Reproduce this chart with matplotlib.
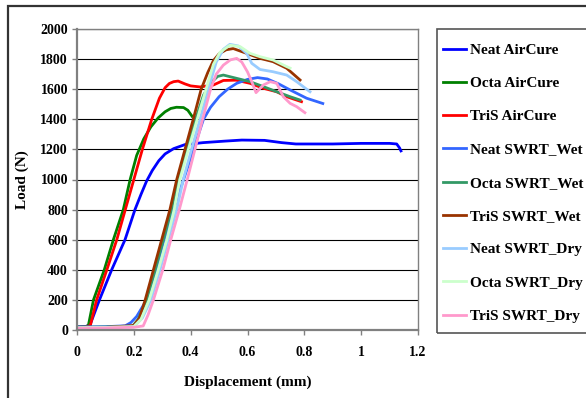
import matplotlib
matplotlib.use("Agg")
import matplotlib.pyplot as plt
from matplotlib.patches import Rectangle

plt.rcParams['font.family'] = ['Liberation Serif', 'DejaVu Serif']
plt.rcParams['font.weight'] = 'bold'

# data
labels = ["Neat AirCure", "Octa AirCure", "TriS AirCure",
          "Neat SWRT_Wet", "Octa SWRT_Wet", "TriS SWRT_Wet",
          "Neat SWRT_Dry", "Octa SWRT_Dry", "TriS SWRT_Dry"]
colors = ["#0000FF", "#008000", "#FF0000",
          "#3366FF", "#339966", "#993300",
          "#99CCFF", "#CCFFCC", "#FF99CC"]

neat_air_x = [0, 0.03, 0.046, 0.079, 0.122, 0.169, 0.204, 0.225, 0.245, 0.265, 0.288,
              0.31, 0.34, 0.38, 0.444, 0.52, 0.58, 0.66, 0.72, 0.77, 0.9, 1.0, 1.1,
              1.125, 1.135, 1.14]
neat_air_y = [20, 22, 35, 200, 400, 600, 800, 900, 990, 1060, 1125,
              1170, 1205, 1232, 1245, 1255, 1262, 1260, 1245, 1236, 1236, 1240, 1240,
              1236, 1210, 1190]

octa_air_x = [0, 0.03, 0.04, 0.058, 0.096, 0.128, 0.163, 0.187, 0.21, 0.235, 0.26,
              0.286, 0.31, 0.33, 0.35, 0.375, 0.39, 0.405]
octa_air_y = [20, 22, 30, 200, 400, 600, 800, 1000, 1160, 1270, 1350,
              1410, 1450, 1472, 1480, 1478, 1460, 1420]

tris_air_x = [0, 0.03, 0.047, 0.069, 0.105, 0.14, 0.17, 0.2, 0.23, 0.263, 0.29,
              0.31, 0.325, 0.34, 0.356, 0.38, 0.4, 0.433, 0.48, 0.515, 0.56, 0.609,
              0.656, 0.703, 0.738, 0.79]
tris_air_y = [18, 20, 30, 200, 400, 600, 800, 1000, 1200, 1400, 1540,
              1610, 1638, 1650, 1654, 1635, 1622, 1615, 1628, 1658, 1660, 1639,
              1606, 1583, 1550, 1517]

neat_wet_x = [0, 0.1, 0.17, 0.19, 0.21, 0.245, 0.278, 0.307, 0.34, 0.375, 0.41, 0.445,
              0.47, 0.5, 0.53, 0.562, 0.6, 0.635, 0.67, 0.71, 0.75, 0.808, 0.865]
neat_wet_y = [20, 22, 28, 50, 90, 200, 400, 600, 800, 1000, 1200, 1400,
              1480, 1550, 1600, 1639, 1665, 1677, 1668, 1635, 1595, 1540, 1505]

octa_wet_x = [0, 0.1, 0.195, 0.215, 0.245, 0.275, 0.304, 0.332, 0.357, 0.387, 0.417,
              0.445, 0.47, 0.495, 0.515, 0.562, 0.609, 0.656, 0.703, 0.75, 0.785]
octa_wet_y = [18, 20, 25, 70, 200, 400, 600, 800, 1000, 1200, 1400,
              1560, 1640, 1685, 1694, 1672, 1650, 1617, 1583, 1550, 1528]

tris_wet_x = [0, 0.1, 0.2, 0.22, 0.24, 0.269, 0.298, 0.327, 0.351, 0.38, 0.409, 0.437,
              0.46, 0.48, 0.5, 0.525, 0.55, 0.597, 0.644, 0.69, 0.738, 0.785]
tris_wet_y = [15, 17, 30, 80, 200, 400, 600, 800, 1000, 1200, 1400, 1600,
              1710, 1790, 1835, 1862, 1870, 1838, 1805, 1783, 1739, 1661]

neat_dry_x = [0, 0.1, 0.2, 0.23, 0.26, 0.292, 0.321, 0.351, 0.374, 0.403, 0.433, 0.462,
              0.49, 0.515, 0.538, 0.568, 0.597, 0.615, 0.644, 0.69, 0.738, 0.773, 0.82]
neat_dry_y = [15, 17, 22, 80, 200, 400, 600, 800, 1000, 1200, 1400, 1600,
              1780, 1865, 1898, 1887, 1838, 1772, 1731, 1716, 1694, 1650, 1583]

octa_dry_x = [0, 0.1, 0.2, 0.225, 0.254, 0.286, 0.316, 0.342, 0.362, 0.392, 0.423, 0.454,
              0.48, 0.503, 0.538, 0.574, 0.609, 0.644, 0.69, 0.738, 0.75]
octa_dry_y = [15, 17, 22, 70, 200, 400, 600, 800, 1000, 1200, 1400, 1600,
              1765, 1845, 1892, 1883, 1838, 1816, 1794, 1750, 1740]

tris_dry_x = [0, 0.1, 0.2, 0.233, 0.25, 0.269, 0.302, 0.33, 0.36, 0.388, 0.415, 0.442,
              0.47, 0.49, 0.515, 0.54, 0.562, 0.58, 0.6, 0.615, 0.63, 0.656, 0.68,
              0.703, 0.726, 0.75, 0.773, 0.802]
tris_dry_y = [12, 14, 18, 27, 100, 200, 400, 600, 800, 1000, 1200, 1400,
              1600, 1700, 1760, 1795, 1805, 1780, 1715, 1650, 1577, 1628, 1650,
              1639, 1550, 1506, 1484, 1444]

xs = [neat_air_x, octa_air_x, tris_air_x, neat_wet_x, octa_wet_x, tris_wet_x,
      neat_dry_x, octa_dry_x, tris_dry_x]
ys = [neat_air_y, octa_air_y, tris_air_y, neat_wet_y, octa_wet_y, tris_wet_y,
      neat_dry_y, octa_dry_y, tris_dry_y]

xticks = [0, 0.2, 0.4, 0.6, 0.8, 1.0, 1.2]
xticklabels = ["0", "0.2", "0.4", "0.6", "0.8", "1", "1.2"]
yticks = list(range(0, 2001, 200))

W, H = 586, 398
fig = plt.figure(figsize=(W / 100, H / 100), dpi=100)
ax = fig.add_axes([77 / W, (H - 330) / H, (418 - 77) / W, (330 - 29) / H])

for x, y, c, lab in zip(xs, ys, colors, labels):
    ax.plot(x, y, color=c, lw=2.0, label=lab, solid_joinstyle='round')

ax.set_xlim(0, 1.2)
ax.set_ylim(0, 2000)
ax.set_xticks(xticks)
ax.set_xticklabels(xticklabels)
ax.set_yticks(yticks)
ax.yaxis.grid(True, color='black', lw=0.8)
ax.set_axisbelow(True)
for s in ax.spines.values():
    s.set_color('#808080')
    s.set_linewidth(1.0)
ax.spines['left'].set_linewidth(1.6)
ax.spines['bottom'].set_linewidth(1.6)
ax.tick_params(axis='both', direction='out', length=3.5, width=1.0, color='#808080',
               labelsize=10)
ax.tick_params(axis='x', pad=8)
ax.tick_params(axis='y', pad=3)

ax.set_xlabel("Displacement (mm)", fontsize=11, fontweight='bold', labelpad=12)
ax.set_ylabel("Load (N)", fontsize=11, fontweight='bold', labelpad=8)

leg = ax.legend(loc='center left', bbox_to_anchor=(443 / W, (H - 183) / H),
                bbox_transform=fig.transFigure, frameon=False, fontsize=11,
                handlelength=1.5, handletextpad=0.25, labelspacing=1.28,
                borderpad=0, borderaxespad=0)
for t in leg.get_texts():
    t.set_fontweight('bold')

# legend frame and outer chart frame (both run off the right/bottom edges)
fig.patches.append(Rectangle((437 / W, (H - 333) / H), 0.5, (333 - 29) / H,
                             transform=fig.transFigure, fill=False,
                             edgecolor='#555555', lw=1.2))
fig.patches.append(Rectangle((8 / W, -0.5), 1.5, 0.5 + (H - 6) / H,
                             transform=fig.transFigure, fill=False,
                             edgecolor='#333333', lw=1.6))

fig.savefig("out.png", dpi=100)
